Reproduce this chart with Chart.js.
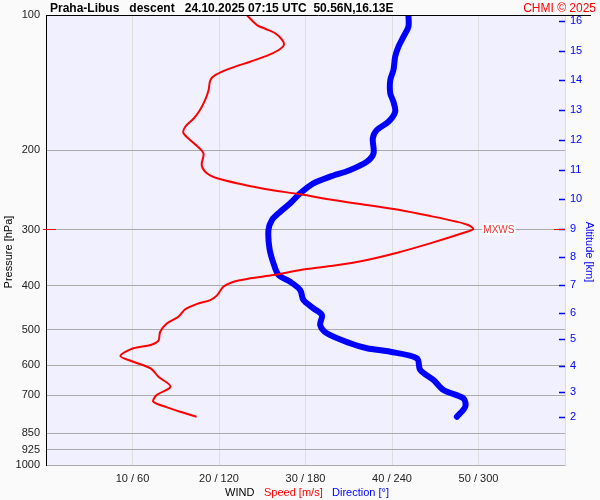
<!DOCTYPE html>
<html>
<head>
<meta charset="utf-8">
<script src="https://cdn.jsdelivr.net/npm/chart.js@4"></script>
<style>
  html, body { margin: 0; padding: 0; background: #fafafa; }
</style>
</head>
<body>
<canvas id="chart" width="600" height="500"></canvas>
<script>
// wind speed profile (m/s) against pressure (hPa)
const speedPressure = [100, 105.3, 107.6, 109.8, 113.6, 116.6, 119.6, 123.3, 127.0, 131.4, 135.9, 139.5, 146.8, 154.4, 162.6, 169.6, 177.1, 183.2, 192.8, 202.9, 215.4, 224.8, 230.6, 237.5, 244.0, 250.3, 257.7, 264.4, 271.3, 280.2, 288.0, 292.9, 299, 304.7, 321.7, 337.5, 351.6, 361.3, 368.8, 378.4, 384.8, 391.6, 401.7, 419.2, 430.1, 438.9, 450.8, 468.2, 484.3, 505.6, 529.4, 541.2, 550.4, 572.5, 589.5, 609.8, 636.6, 669.9, 699.0, 723.4, 744.5, 765.3, 781.2];
const speed = [23.2, 24.4, 25.5, 26.5, 27.3, 27.5, 26.9, 25.5, 23.6, 21.3, 19.6, 19.0, 18.8, 18.4, 17.8, 17.1, 16.1, 15.9, 17.1, 18.2, 18.0, 18.6, 19.8, 22.5, 25.5, 29.4, 33.2, 37.1, 40.9, 44.6, 47.5, 48.8, 49.4, 48.3, 44.4, 40.6, 36.7, 32.9, 29.4, 26.3, 23.6, 21.7, 20.5, 19.8, 19.0, 17.4, 16.1, 15.3, 14.0, 13.2, 13.0, 12.1, 10.1, 8.6, 10.1, 12.1, 13.0, 14.4, 12.8, 12.4, 14.0, 15.9, 17.4];

// wind direction profile (deg) against pressure (hPa)
const dirPressure = [100, 106.2, 111.7, 117.6, 123.8, 132.5, 139.5, 149.3, 155.9, 164.0, 172.6, 180.1, 187.9, 202.9, 211.8, 221.0, 228.7, 236.6, 249.0, 262.1, 273.6, 285.5, 300.5, 330.0, 356.4, 378.4, 391.6, 408.4, 430.1, 448.5, 464.2, 488.5, 509.7, 536.5, 550.4, 560.1, 579.5, 615.1, 647.4, 681.3, 711.0, 742.2, 781.2];
const direction = [251.4, 251.4, 248.0, 244.5, 242.2, 241.0, 238.8, 238.8, 241.0, 242.2, 237.6, 229.5, 226.7, 227.2, 222.6, 211.0, 197.1, 185.5, 176.3, 169.4, 162.5, 156.7, 154.3, 155.0, 157.8, 161.3, 169.4, 176.3, 178.6, 185.5, 191.4, 190.2, 194.8, 211.0, 222.6, 238.8, 257.3, 259.6, 268.8, 275.7, 289.6, 290.8, 285.0];

// axes
const pressureTicks = [100, 200, 300, 400, 500, 600, 700, 850, 925, 1000];
const speedTicks = [0, 10, 20, 30, 40, 50, 60];
const altitudeKm = [16, 15, 14, 13, 12, 11, 10, 9, 8, 7, 6, 5, 4, 3, 2];
const altitudePressure = [103, 120, 139.7, 162.8, 189.8, 221, 256.8, 298.9, 345.5, 398.1, 460.1, 525.6, 601.7, 687.3, 780.9];

const FONT = 'Arial, "Liberation Sans", sans-serif';
const BLUE = '#0000ff';
const RED = '#ff0000';

const decor = {
  id: 'decor',
  beforeDraw(chart) {
    const { ctx, chartArea: a } = chart;
    ctx.save();
    ctx.fillStyle = '#fafafa';
    ctx.fillRect(0, 0, chart.width, chart.height);
    ctx.fillStyle = '#f0f0ff';
    ctx.fillRect(a.left, a.top, a.right - a.left, a.bottom - a.top);
    ctx.restore();
  },
  afterDraw(chart) {
    const { ctx, chartArea: a, scales } = chart;
    ctx.save();

    // top frame line
    ctx.strokeStyle = '#000';
    ctx.lineWidth = 1;
    ctx.beginPath();
    ctx.moveTo(a.left, a.top + 0.5);
    ctx.lineTo(591, a.top + 0.5);
    ctx.stroke();

    // altitude tick marks
    ctx.strokeStyle = BLUE;
    ctx.lineWidth = 1.5;
    altitudePressure.forEach(p => {
      const y = Math.round(scales.yAlt.getPixelForValue(p)) + 0.5;
      ctx.beginPath();
      ctx.moveTo(a.right - 6, y);
      ctx.lineTo(a.right, y);
      ctx.stroke();
    });

    // max wind speed marker
    const iMax = speed.indexOf(Math.max(...speed));
    const mx = scales.x.getPixelForValue(speed[iMax]);
    const my = Math.round(scales.y.getPixelForValue(speedPressure[iMax])) + 0.5;
    ctx.strokeStyle = RED;
    ctx.lineWidth = 1;
    ctx.beginPath();
    ctx.moveTo(a.left - 3, my);
    ctx.lineTo(a.left + 10, my);
    ctx.moveTo(a.right - 11, my);
    ctx.lineTo(a.right, my);
    ctx.stroke();
    ctx.font = '10px ' + FONT;
    ctx.textBaseline = 'middle';
    const tw = ctx.measureText('MXWS').width;
    ctx.fillStyle = '#ffffff';
    ctx.fillRect(mx + 9, my - 6, tw + 2, 12);
    ctx.fillStyle = '#ee3333';
    ctx.fillText('MXWS', mx + 10, my + 1);

    // title
    ctx.textBaseline = 'alphabetic';
    ctx.font = 'bold 12px ' + FONT;
    ctx.fillStyle = '#000';
    ctx.fillText('Praha-Libus   descent   24.10.2025 07:15 UTC  50.56N,16.13E', 50, 12);
    ctx.font = '12px ' + FONT;
    ctx.fillStyle = RED;
    ctx.textAlign = 'right';
    ctx.fillText('CHMI © 2025', 596, 12);

    // bottom legend
    ctx.textAlign = 'left';
    ctx.font = '11px ' + FONT;
    ctx.fillStyle = '#000';
    ctx.fillText('WIND', 225, 496);
    ctx.fillStyle = RED;
    ctx.fillText('Speed [m/s]', 264, 496);
    ctx.fillStyle = BLUE;
    ctx.fillText('Direction [°]', 332, 496);

    // axis titles
    ctx.textAlign = 'center';
    ctx.save();
    ctx.translate(12, 252);
    ctx.rotate(-Math.PI / 2);
    ctx.fillStyle = '#000';
    ctx.fillText('Pressure [hPa]', 0, 0);
    ctx.restore();
    ctx.save();
    ctx.translate(586, 252);
    ctx.rotate(Math.PI / 2);
    ctx.fillStyle = BLUE;
    ctx.fillText('Altitude [km]', 0, 0);
    ctx.restore();

    ctx.restore();
  }
};

new Chart(document.getElementById('chart'), {
  type: 'scatter',
  data: {
    datasets: [{
      label: 'Speed [m/s]',
      data: speed.map((v, i) => ({ x: v, y: speedPressure[i] })),
      showLine: true,
      borderColor: RED,
      borderWidth: 2,
      pointRadius: 0,
      tension: 0.3,
      xAxisID: 'x',
      yAxisID: 'y'
    }, {
      label: 'Direction [°]',
      data: direction.map((v, i) => ({ x: v, y: dirPressure[i] })),
      showLine: true,
      borderColor: BLUE,
      borderWidth: 6,
      borderCapStyle: 'round',
      borderJoinStyle: 'round',
      pointRadius: 0,
      tension: 0.3,
      xAxisID: 'xDir',
      yAxisID: 'y'
    }]
  },
  options: {
    responsive: false,
    animation: false,
    layout: { padding: { top: 15 } },
    plugins: {
      legend: { display: false },
      tooltip: { enabled: false }
    },
    scales: {
      x: {
        type: 'linear',
        position: 'bottom',
        min: 0,
        max: 60,
        afterBuildTicks: s => { s.ticks = speedTicks.map(v => ({ value: v })); },
        afterFit: s => { s.height = 35; },
        grid: {
          color: c => (c.tick && c.tick.value === 0) ? 'rgba(0,0,0,0)' : '#dddddd',
          drawTicks: false
        },
        border: { display: false },
        ticks: {
          padding: 7,
          color: '#222',
          font: { family: FONT, size: 11 },
          callback: v => (v === 0 || v === 60) ? '' : v + ' / ' + v * 6
        }
      },
      xDir: {
        type: 'linear',
        display: false,
        min: 0,
        max: 360
      },
      y: {
        type: 'logarithmic',
        position: 'left',
        reverse: true,
        min: 100,
        max: 1000,
        afterBuildTicks: s => { s.ticks = pressureTicks.map(v => ({ value: v })); },
        afterFit: s => { s.width = 46; },
        grid: {
          color: c => (c.tick && c.tick.value === 100) ? 'rgba(0,0,0,0)' : '#aaaaaa',
          drawTicks: false
        },
        border: { color: '#000', width: 1 },
        ticks: {
          padding: 6,
          color: '#222',
          font: { family: FONT, size: 11 },
          callback: v => String(v)
        }
      },
      yAlt: {
        type: 'logarithmic',
        position: 'right',
        reverse: true,
        min: 100,
        max: 1000,
        afterBuildTicks: s => { s.ticks = altitudePressure.map(v => ({ value: v })); },
        afterFit: s => { s.width = 35; },
        grid: { drawOnChartArea: false, drawTicks: false },
        border: { color: '#dddddd', width: 1 },
        ticks: {
          padding: 5,
          color: BLUE,
          font: { family: FONT, size: 11 },
          callback: (v, i) => String(altitudeKm[i])
        }
      }
    }
  },
  plugins: [decor]
});
</script>
</body>
</html>
